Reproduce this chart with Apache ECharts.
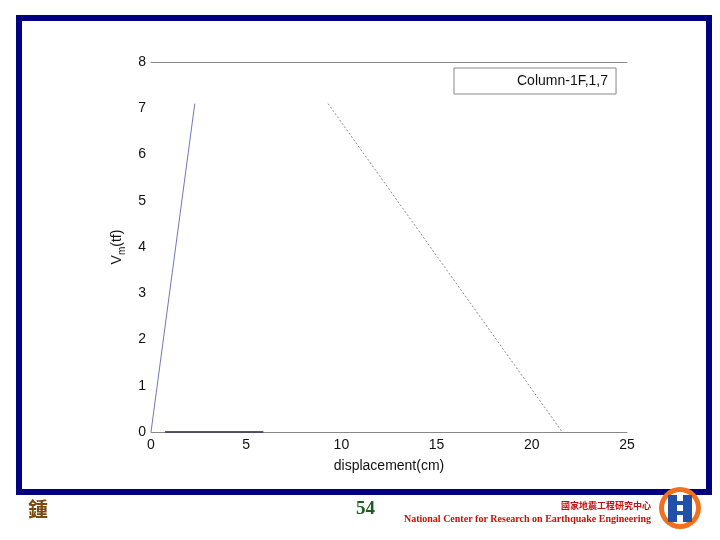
<!DOCTYPE html>
<html>
<head>
<meta charset="utf-8">
<script src="https://cdn.jsdelivr.net/npm/echarts@6/dist/echarts.min.js"></script>
<style>
html,body{margin:0;padding:0;background:#fff;}
#c{width:720px;height:540px;}
</style>
</head>
<body>
<div id="c"></div>
<script>
// Data
const seriesName = 'Column-1F,1,7';
const riseX = [0, 2.3];
const riseY = [0, 7.1];
const fallX = [9.3, 21.6];
const fallY = [7.1, 0];
const baseX = [0.74, 5.9];
const baseY = [0, 0];
const xTicks = [0, 5, 10, 15, 20, 25];
const yTicks = [0, 1, 2, 3, 4, 5, 6, 7, 8];
const pageNumber = '54';

function pairs(xs, ys) { return xs.map((x, i) => [x, ys[i]]); }

const chart = echarts.init(document.getElementById('c'));
const font = 'Liberation Sans, Arial, sans-serif';
const serif = 'Liberation Serif, Times New Roman, serif';

chart.setOption({
  backgroundColor: '#fff',
  animation: false,
  grid: { left: 151, right: 93, top: 62, bottom: 108, containLabel: false },
  legend: {
    left: 454, top: 68,
    data: [{ name: seriesName, icon: 'none' }],
    itemWidth: 0, itemHeight: 0,
    borderColor: '#888', borderWidth: 1, borderRadius: 0,
    padding: [6, 8, 6, 58],
    textStyle: { fontFamily: font, fontSize: 14, color: '#111' },
    selectedMode: false
  },
  xAxis: [{
    type: 'value', min: 0, max: 25, interval: 5,
    position: 'bottom',
    name: 'displacement(cm)', nameLocation: 'middle', nameGap: 27,
    nameTextStyle: { fontFamily: font, fontSize: 14, color: '#111' },
    axisLine: { show: true, onZero: false, lineStyle: { color: '#888', width: 1 } },
    axisTick: { show: false },
    splitLine: { show: false },
    axisLabel: { fontFamily: font, fontSize: 14, color: '#111', margin: 6,
      formatter: v => xTicks.includes(v) ? String(v) : '' }
  }, {
    type: 'value', min: 0, max: 25, interval: 5,
    position: 'top',
    axisLine: { show: true, onZero: false, lineStyle: { color: '#888', width: 1 } },
    axisTick: { show: false },
    splitLine: { show: false },
    axisLabel: { show: false }
  }],
  yAxis: {
    type: 'value', min: 0, max: 8, interval: 1,
    name: '{a|V}{b|m}{a|(tf)}', nameLocation: 'middle', nameGap: 24, nameRotate: 90,
    nameTextStyle: {
      rich: {
        a: { fontFamily: font, fontSize: 14, color: '#111' },
        b: { fontFamily: font, fontSize: 10, color: '#111', padding: [9, 0, 0, 0] }
      }
    },
    axisLine: { show: false },
    axisTick: { show: false },
    splitLine: { show: false },
    axisLabel: { fontFamily: font, fontSize: 14, color: '#111', margin: 5,
      formatter: v => yTicks.includes(v) ? String(v) : '' }
  },
  series: [{
    name: seriesName, type: 'line', xAxisIndex: 0,
    data: pairs(riseX, riseY), symbol: 'none',
    lineStyle: { color: '#7474c0', width: 1 }
  }, {
    name: 'fall', type: 'line', xAxisIndex: 0,
    data: pairs(fallX, fallY), symbol: 'none',
    lineStyle: { color: '#8a8a8a', width: 1, type: [2, 2] }
  }, {
    name: 'base', type: 'line', xAxisIndex: 0,
    data: pairs(baseX, baseY), symbol: 'none',
    lineStyle: { color: '#1c1c44', width: 1.5 }
  }],
  graphic: [
    { type: 'rect', shape: { x: 19, y: 18, width: 690, height: 474 },
      style: { fill: 'none', stroke: '#000080', lineWidth: 6 }, silent: true },
    { type: 'text', left: 28, top: 499,
      style: { text: '鍾', font: 'bold 20px "Noto Sans CJK TC", serif', fill: '#7a4a10' } },
    { type: 'text', left: 356, top: 500,
      style: { text: pageNumber, font: 'bold 19px ' + serif, fill: '#1d5e1d' } },
    { type: 'text', right: 69, top: 501,
      style: { text: '國家地震工程研究中心', font: 'bold 9px "Noto Sans CJK TC", sans-serif', fill: '#c81010' } },
    { type: 'text', right: 69, top: 514,
      style: { text: 'National Center for Research on Earthquake Engineering', font: 'bold 10px ' + serif, fill: '#c81010' } },
    { type: 'circle', shape: { cx: 680, cy: 508, r: 21 }, style: { fill: '#f07020' } },
    { type: 'circle', shape: { cx: 680, cy: 508, r: 16 }, style: { fill: '#ffffff' } },
    { type: 'rect', shape: { x: 668, y: 495, width: 9, height: 27 }, style: { fill: '#2050a8' } },
    { type: 'rect', shape: { x: 683, y: 495, width: 9, height: 27 }, style: { fill: '#2050a8' } },
    { type: 'rect', shape: { x: 677, y: 501, width: 6, height: 4 }, style: { fill: '#2050a8' } },
    { type: 'rect', shape: { x: 677, y: 511, width: 6, height: 4 }, style: { fill: '#2050a8' } }
  ]
});
</script>
</body>
</html>
